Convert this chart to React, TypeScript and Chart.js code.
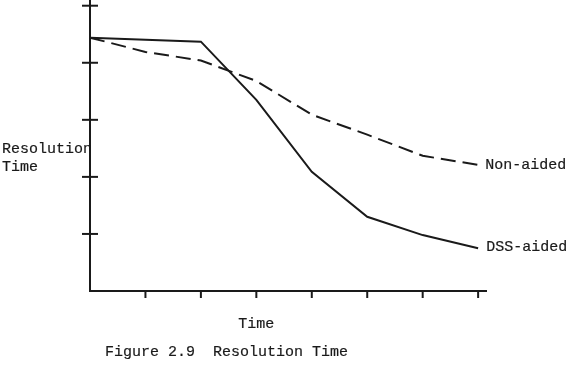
import React, { useEffect, useRef } from "react";
import { Chart, registerables } from "chart.js";

Chart.register(...registerables);

// Data (x = time step, y = resolution time, arbitrary units)
const timePoints = [0, 1, 2, 3, 4, 5, 6, 7];
const dssAided = [4.44, 4.37, 3.35, 2.09, 1.3, 0.98, 0.75];
const dssTimes = [0, 2, 3, 4, 5, 6, 7];
const nonAided = [4.44, 4.19, 4.04, 3.68, 3.09, 2.74, 2.37, 2.21];
const xTicks = [1, 2, 3, 4, 5, 6, 7];
const yTicks = [1, 2, 3, 4, 5];

const seriesLabels = ["DSS-aided", "Non-aided"];
const yTitle = ["Resolution", "Time"];
const xTitle = "Time";
const caption = "Figure 2.9  Resolution Time";

const FONT = '15px "Liberation Mono", "DejaVu Sans Mono", monospace';
const INK = "#1a1a1a";

function heavyText(ctx: CanvasRenderingContext2D, s: string, x: number, y: number) {
  ctx.fillText(s, x, y);
  ctx.strokeText(s, x, y);
}

const decorPlugin = {
  id: "decor",
  beforeDatasetsDraw(chart: any) {
    const { ctx, chartArea, scales } = chart;
    const xs = scales.x;
    const ys = scales.y;
    const x0 = xs.getPixelForValue(0);
    const y0 = ys.getPixelForValue(0);
    ctx.save();
    ctx.strokeStyle = INK;
    ctx.lineWidth = 2;
    ctx.lineCap = "butt";
    // y axis
    ctx.beginPath();
    ctx.moveTo(x0, chartArea.top);
    ctx.lineTo(x0, y0 + 1);
    ctx.stroke();
    // x axis
    ctx.beginPath();
    ctx.moveTo(x0 - 1, y0);
    ctx.lineTo(chartArea.right, y0);
    ctx.stroke();
    // y ticks crossing the axis
    yTicks.forEach((v) => {
      const py = ys.getPixelForValue(v);
      ctx.beginPath();
      ctx.moveTo(x0 - 8, py);
      ctx.lineTo(x0 + 8, py);
      ctx.stroke();
    });
    // x ticks below the axis
    xTicks.forEach((v) => {
      const px = xs.getPixelForValue(v);
      ctx.beginPath();
      ctx.moveTo(px, y0);
      ctx.lineTo(px, y0 + 7);
      ctx.stroke();
    });
    ctx.restore();
  },
  afterDraw(chart: any) {
    const { ctx, scales } = chart;
    const xs = scales.x;
    const ys = scales.y;
    ctx.save();
    ctx.fillStyle = INK;
    ctx.strokeStyle = INK;
    ctx.lineWidth = 0.2;
    ctx.font = FONT;
    ctx.textBaseline = "middle";
    ctx.textAlign = "left";
    // end labels
    const dssLast = dssAided.length - 1;
    heavyText(
      ctx,
      seriesLabels[0],
      xs.getPixelForValue(dssTimes[dssLast]) + 8,
      ys.getPixelForValue(dssAided[dssLast]) - 1
    );
    const nonLast = nonAided.length - 1;
    heavyText(
      ctx,
      seriesLabels[1],
      xs.getPixelForValue(timePoints[nonLast]) + 7,
      ys.getPixelForValue(nonAided[nonLast])
    );
    // y title
    heavyText(ctx, yTitle[0], 2, 149);
    heavyText(ctx, yTitle[1], 2, 167);
    // x title
    ctx.textAlign = "center";
    heavyText(ctx, xTitle, xs.getPixelForValue(3), 324);
    // caption
    ctx.textAlign = "left";
    heavyText(ctx, caption, 105, 352);
    ctx.restore();
  },
};

export default function App() {
  const canvasRef = useRef<HTMLCanvasElement | null>(null);

  useEffect(() => {
    if (!canvasRef.current) return;
    const chart = new Chart(canvasRef.current, {
      type: "line",
      data: {
        datasets: [
          {
            label: seriesLabels[0],
            data: dssTimes.map((t, i) => ({ x: t, y: dssAided[i] })),
            borderColor: INK,
            borderWidth: 2,
            pointRadius: 0,
            tension: 0,
            fill: false,
            clip: false as any,
          },
          {
            label: seriesLabels[1],
            data: timePoints.map((t, i) => ({ x: t, y: nonAided[i] })),
            borderColor: INK,
            borderWidth: 2,
            borderDash: [15, 7],
            pointRadius: 0,
            tension: 0,
            fill: false,
            clip: false as any,
          },
        ],
      },
      options: {
        animation: false,
        responsive: false,
        maintainAspectRatio: false,
        devicePixelRatio: 1,
        layout: { padding: { left: 90, right: 88, top: 0, bottom: 78 } },
        plugins: {
          legend: { display: false },
          tooltip: { enabled: false },
        },
        events: [],
        scales: {
          x: { type: "linear", min: 0, max: 7.16, display: false },
          y: { type: "linear", min: 0, max: 5.1, display: false },
        },
      },
      plugins: [decorPlugin],
    });
    return () => chart.destroy();
  }, []);

  return (
    <div
      style={{
        position: "fixed",
        left: 0,
        top: 0,
        width: 575,
        height: 369,
        background: "#fff",
      }}
    >
      <canvas ref={canvasRef} width={575} height={369} />
    </div>
  );
}
